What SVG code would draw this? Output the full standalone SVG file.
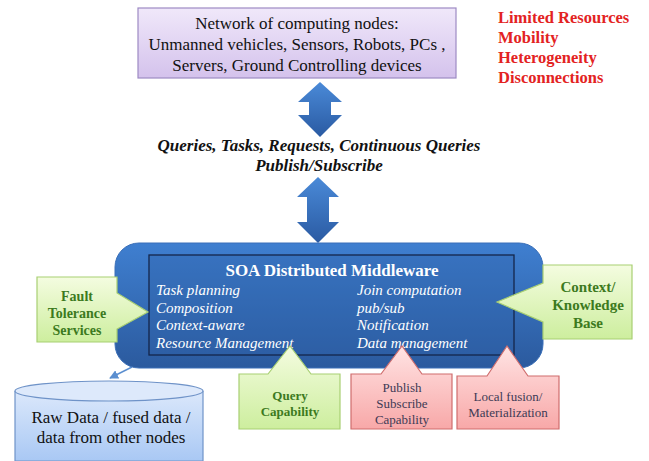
<svg xmlns="http://www.w3.org/2000/svg" width="649" height="461" viewBox="0 0 649 461">
<defs>
<linearGradient id="gPurple" x1="0" y1="0" x2="0" y2="1"><stop offset="0" stop-color="#f0e8fa"/><stop offset="1" stop-color="#d4c2ec"/></linearGradient>
<linearGradient id="gBlue" x1="0" y1="0" x2="0" y2="1"><stop offset="0" stop-color="#3f7fd0"/><stop offset="1" stop-color="#2b5a9e"/></linearGradient>
<linearGradient id="gArrow" x1="0" y1="0" x2="0" y2="1"><stop offset="0" stop-color="#4a8ad8"/><stop offset="1" stop-color="#2a5aa2"/></linearGradient>
<linearGradient id="gGreen" x1="0" y1="0" x2="0" y2="1"><stop offset="0" stop-color="#f4fce0"/><stop offset="1" stop-color="#cdee9e"/></linearGradient>
<linearGradient id="gPink" x1="0" y1="0" x2="0" y2="1"><stop offset="0" stop-color="#ffe4e4"/><stop offset="1" stop-color="#f8a8a8"/></linearGradient>
<linearGradient id="gCyl" x1="0" y1="0" x2="0" y2="1"><stop offset="0" stop-color="#dbe8fb"/><stop offset="1" stop-color="#a9c8f4"/></linearGradient>
<marker id="ah" viewBox="0 0 10 10" refX="9" refY="5" markerWidth="6" markerHeight="6" orient="auto"><path d="M0,0 L10,5 L0,10 z" fill="#5b8fd0"/></marker>
</defs>
<style>
text{font-family:'Liberation Serif','Times New Roman',serif}
.g{fill:url(#gGreen);stroke:#a8cf72;stroke-width:1.2}
.p{fill:url(#gPink);stroke:#cf6d6d;stroke-width:1.2}
.gt{font-weight:bold;font-size:13px;fill:#3c7a1e;text-anchor:middle}
.pt{font-size:13px;fill:#3d3a55;text-anchor:middle}
.wi{font-style:italic;font-size:15px;fill:#ffffff}
.red{font-weight:bold;font-size:16.5px;fill:#e32222}
.arr{fill:url(#gArrow)}
</style>
<rect width="649" height="461" fill="#ffffff"/>

<g id="connectors">
<path class="arr" d="M320,82 L342,102 H331 V115 H342 L320,137 L298,115 H309 V102 H298 Z"/>
<path class="arr" d="M318,177 L339,197 H329 V222 H339 L318,243 L297,222 H307 V197 H297 Z"/>
<line x1="132" y1="367" x2="110" y2="378" stroke="#5b8fd0" stroke-width="1.5" marker-end="url(#ah)"/>
</g>

<g id="network">
<rect x="138" y="8" width="318" height="70" fill="url(#gPurple)" stroke="#9d8ac4" stroke-width="1.2"/>
<text font-size="17" fill="#111" text-anchor="middle"><tspan x="297" y="29">Network of computing nodes:</tspan><tspan x="297" y="50">Unmanned vehicles, Sensors, Robots, PCs ,</tspan><tspan x="297" y="71">Servers, Ground Controlling devices</tspan></text>
</g>

<g id="challenges">
<text class="red"><tspan x="498" y="23">Limited Resources</tspan><tspan x="498" y="43">Mobility</tspan><tspan x="498" y="63">Heterogeneity</tspan><tspan x="498" y="83">Disconnections</tspan></text>
</g>

<g id="messages">
<text font-size="17" font-weight="bold" font-style="italic" fill="#111" text-anchor="middle"><tspan x="319" y="151">Queries, Tasks, Requests, Continuous Queries</tspan><tspan x="319" y="171">Publish/Subscribe</tspan></text>
</g>

<g id="middleware">
<rect x="115" y="243" width="428" height="125" rx="24" fill="url(#gBlue)" stroke="#3a6fb8" stroke-width="1"/>
<rect x="149" y="255" width="365" height="100" fill="#2e62a8" fill-opacity="0.35" stroke="#14264a" stroke-width="1.3"/>
<text font-size="17" font-weight="bold" fill="#ffffff" text-anchor="middle" x="332" y="276">SOA Distributed Middleware</text>
<text class="wi"><tspan x="156" y="295">Task  planning</tspan><tspan x="156" y="313">Composition</tspan><tspan x="156" y="330">Context-aware</tspan><tspan x="156" y="348">Resource Management</tspan></text>
<text class="wi"><tspan x="357" y="295">Join computation</tspan><tspan x="357" y="313">pub/sub</tspan><tspan x="357" y="330">Notification</tspan><tspan x="357" y="348">Data management</tspan></text>
</g>

<g id="fault">
<path class="g" d="M37,277 H117 V293 L148,312 L117,329 V342 H37 Z"/>
<text class="gt" font-size="14" style="font-size:14px"><tspan x="77" y="301">Fault</tspan><tspan x="77" y="318">Tolerance</tspan><tspan x="77" y="335">Services</tspan></text>
</g>

<g id="context">
<path class="g" d="M543,265 H632 V339 H543 V322 L497,302 L543,283 Z"/>
<text class="gt" style="font-size:15px"><tspan x="588" y="292">Context/</tspan><tspan x="588" y="310">Knowledge</tspan><tspan x="588" y="328">Base</tspan></text>
</g>

<g id="query">
<path class="g" d="M239,374 H268 L290,346 L311,374 H340 V429 H239 Z"/>
<text class="gt"><tspan x="290" y="400">Query</tspan><tspan x="290" y="416">Capability</tspan></text>
</g>

<g id="pubsub">
<path class="p" d="M351,374 H381 L402,346 L422,374 H452 V429 H351 Z"/>
<text class="pt"><tspan x="402" y="392">Publish</tspan><tspan x="402" y="408">Subscribe</tspan><tspan x="402" y="424">Capability</tspan></text>
</g>

<g id="fusion">
<path class="p" d="M457,376 H487 L507,346 L528,376 H559 V429 H457 Z"/>
<text class="pt"><tspan x="508" y="401">Local fusion/</tspan><tspan x="508" y="417">Materialization</tspan></text>
</g>

<g id="storage">
<path d="M15,391 V461 H203 V391" fill="url(#gCyl)" stroke="#6f93c8" stroke-width="1.2"/>
<ellipse cx="109" cy="391" rx="94" ry="10" fill="#dde9fb" stroke="#6f93c8" stroke-width="1.2"/>
<text font-size="17" fill="#111" text-anchor="middle"><tspan x="111" y="423">Raw Data / fused data /</tspan><tspan x="111" y="443">data from other nodes</tspan></text>
</g>
</svg>
